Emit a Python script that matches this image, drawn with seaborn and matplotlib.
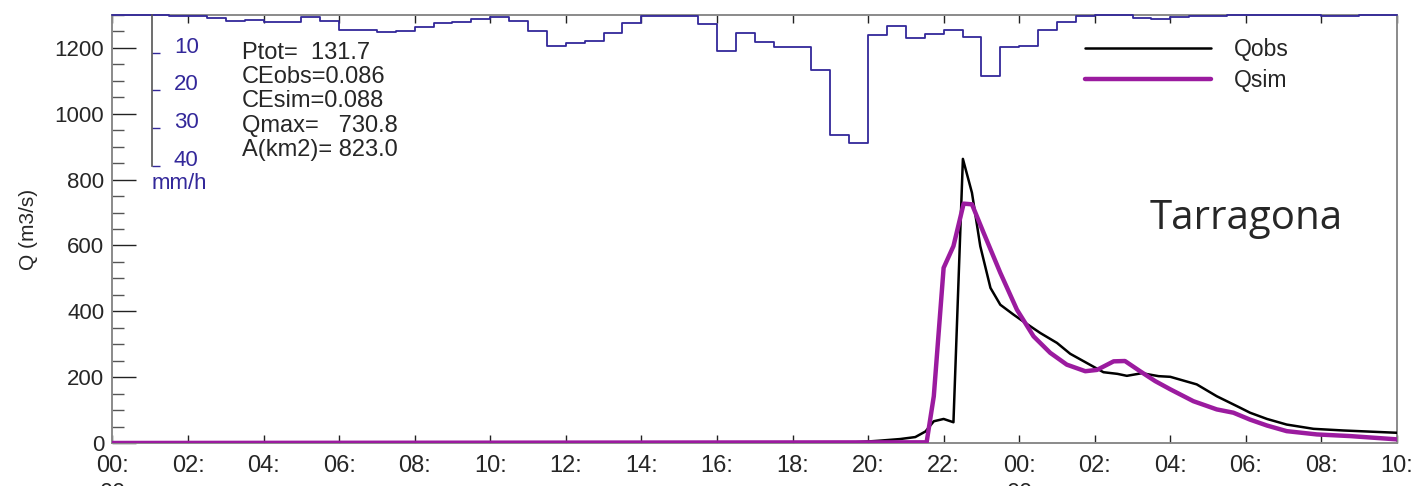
import numpy as np
import matplotlib.pyplot as plt
import seaborn as sns
from matplotlib import font_manager
from matplotlib.ticker import MultipleLocator

# --- data ---
# half-hourly basin rainfall (mm/h), first step starts 00:00 day 1
rain = [0.1, 0.1, 0.1, 0.2, 0.2, 0.7, 1.6, 1.4, 1.9, 1.9,
        0.5, 1.6, 4.1, 4.0, 4.5, 4.2, 3.1, 2.0, 1.8, 1.0,
        0.6, 1.5, 4.3, 8.2, 7.4, 7.0, 4.7, 2.1, 0.3, 0.3,
        0.3, 2.5, 9.6, 4.7, 7.1, 8.4, 8.4, 14.6, 31.7, 33.9,
        5.4, 2.9, 6.0, 5.1, 3.9, 5.8, 16.3, 8.4, 8.2, 3.9,
        1.8, 0.3, 0.1, 0.1, 0.7, 1.0, 0.5, 0.3, 0.3, 0.1,
        0.1, 0.1, 0.1, 0.1, 0.2, 0.2, 0.1, 0.1]
rain_step_h = 0.5

# hours since 00:00 day 1
obs_time = [0, 19.3, 19.8, 20.3, 20.85, 21.25, 21.52, 21.74, 22.0, 22.26,
            22.51, 22.75, 22.97, 23.24, 23.5, 23.85, 24.16, 24.56, 25.0, 25.35,
            25.79, 26.23, 26.6, 26.85, 27.25, 27.69, 28.0, 28.7, 29.23, 29.85,
            30.11, 30.56, 31.08, 31.79, 32.58, 34.0]
obs_q = [0, 0, 3, 7, 12, 18, 35, 66, 73, 63,
         863, 760, 598, 471, 420, 390, 365, 334, 304, 271,
         243, 215, 210, 204, 212, 203, 201, 178, 142, 107,
         92, 73, 56, 43, 38, 31]

sim_time = [0, 21.55, 21.74, 22.0, 22.26, 22.53, 22.75, 23.06, 23.5, 23.94,
            24.38, 24.82, 25.26, 25.75, 26.06, 26.5, 26.8, 27.2, 27.6, 28.0,
            28.61, 29.23, 29.67, 30.11, 30.56, 31.08, 31.88, 32.76, 34.0]
sim_q = [0, 2, 142, 532, 598, 727, 725, 638, 517, 405,
         324, 274, 238, 218, 222, 248, 249, 218, 188, 163,
         127, 102, 92, 71, 53, 36, 26, 21, 11]

tick_hours = list(range(0, 35, 2))
tick_labels = [f"{h % 24:02d}:" + ("\n00" if h % 24 == 0 else "") for h in tick_hours]
rain_ticks = [10, 20, 30, 40]
stats_lines = ["Ptot=  131.7", "CEobs=0.086", "CEsim=0.088", "Qmax=   730.8", "A(km2)= 823.0"]
station = "Tarragona"

# --- style ---
sns.set_theme(style="white")
plt.rcParams['font.family'] = ['Liberation Sans', 'DejaVu Sans']
names = {f.name for f in font_manager.fontManager.ttflist}
xtick_font = 'Liberation Sans Narrow' if 'Liberation Sans Narrow' in names else 'Liberation Sans'
xtick_size = 20 if xtick_font == 'Liberation Sans Narrow' else 17

C_SIM = '#9b1b9f'
C_RAIN = '#33289a'
C_SPINE = '#8a8a8a'

fig = plt.figure(figsize=(14.22, 4.86), dpi=100)
ax = fig.add_axes([0.0791, 0.0885, 0.9033, 0.8806])

sns.lineplot(x=obs_time, y=obs_q, ax=ax, color='black', lw=1.8, label='Qobs', zorder=3)
sns.lineplot(x=sim_time, y=sim_q, ax=ax, color=C_SIM, lw=3.2, label='Qsim', zorder=4)

ax.set_xlim(0, 34)
ax.set_ylim(0, 1300)
ax.set_xticks(tick_hours)
ax.set_xticklabels(tick_labels, family=xtick_font, fontsize=xtick_size, linespacing=1.3, va='top')
ax.yaxis.set_major_locator(MultipleLocator(200))
ax.yaxis.set_minor_locator(MultipleLocator(50))
ax.tick_params(axis='y', which='major', direction='in', length=17, width=1.0, color='#222222',
               left=True, right=True, labelsize=16, pad=6)
ax.tick_params(axis='y', which='minor', direction='in', length=8.5, width=1.0, color='#555555',
               left=True, right=True)
ax.tick_params(axis='x', which='major', direction='in', length=6, width=1.0, color='#222222',
               top=True, bottom=True, pad=9)
ax.set_ylabel('Q (m3/s)', fontsize=15, labelpad=12)
ax.set_xlabel('')
for s in ax.spines.values():
    s.set_color(C_SPINE)
    s.set_linewidth(1.4)

leg = ax.legend(loc='upper left', bbox_to_anchor=(0.757, 0.946), frameon=False,
                borderpad=0, borderaxespad=0, handlelength=5.5, handletextpad=1.0,
                labelspacing=0.33, fontsize=16.5)

ax.text(0.101, 0.937, "\n".join(stats_lines), transform=ax.transAxes, fontsize=17,
        va='top', ha='left', linespacing=1.13)
ax.text(0.883, 0.500, station, transform=ax.transAxes, fontsize=29,
        family=['Open Sans', 'DejaVu Sans'], ha='center', va='baseline')

# --- hyetograph on an inverted twin axis ---
ax2 = ax.twinx()
rain_x = np.arange(len(rain) + 1) * rain_step_h
rain_y = list(rain) + [rain[-1]]
sns.lineplot(x=rain_x, y=rain_y, ax=ax2, color=C_RAIN, lw=1.3, drawstyle='steps-post',
             clip_on=False)
ax2.set_ylim(113.5, 0)
ax2.set_ylabel('')
for side in ['top', 'bottom', 'left']:
    ax2.spines[side].set_visible(False)
ax2.spines['right'].set_position(('data', 1.04))
ax2.spines['right'].set_bounds(0, 40)
ax2.spines['right'].set_color('#555555')
ax2.spines['right'].set_linewidth(1.2)
ax2.set_yticks(rain_ticks)
ax2.tick_params(axis='y', direction='out', length=6, width=1.0, color=C_RAIN,
                labelcolor=C_RAIN, labelsize=16, pad=10)
for lab in ax2.get_yticklabels():
    lab.set_va('baseline')
ax2.text(1.04, 41.8, 'mm/h', color=C_RAIN, fontsize=16, ha='left', va='top')

fig.savefig('out.png', dpi=100)
